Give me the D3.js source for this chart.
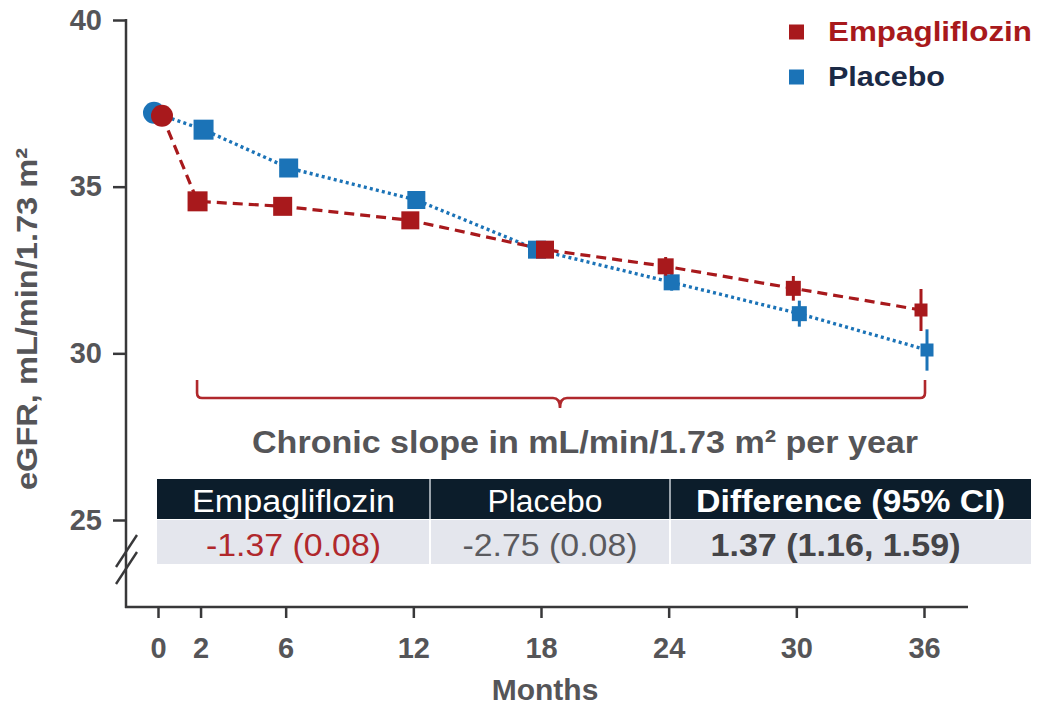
<!DOCTYPE html>
<html><head><meta charset="utf-8">
<script src="https://cdn.jsdelivr.net/npm/d3@7"></script>
<style>
body{margin:0;background:#fff}
svg{display:block}
text{font-family:"Liberation Sans",Arial,Helvetica,sans-serif}
</style>
</head><body>
<svg id="c" width="1047" height="705"></svg>
<script>
// ---- data ----
const months = [0, 2, 6, 12, 18, 24, 30, 36];
const monthTickLabels = ["0", "2", "6", "12", "18", "24", "30", "36"];
const empaValues = [37.13, 34.56, 34.41, 33.99, 33.11, 32.61, 31.95, 31.30];
const empaErrors = [0.05, 0.10, 0.12, 0.15, 0.20, 0.28, 0.37, 0.63];
const placeboValues = [37.22, 36.71, 35.56, 34.60, 33.11, 32.13, 31.19, 30.10];
const placeboErrors = [0.05, 0.10, 0.12, 0.15, 0.20, 0.25, 0.39, 0.62];
const yTicks = [25, 30, 35, 40];
const seriesNames = ["Empagliflozin", "Placebo"];
const tableHeaders = ["Empagliflozin", "Placebo", "Difference (95% CI)"];
const tableValues = ["-1.37 (0.08)", "-2.75 (0.08)", "1.37 (1.16, 1.59)"];
const yAxisTitle = "eGFR, mL/min/1.73 m²";
const xAxisTitle = "Months";
const bracketLabel = "Chronic slope in mL/min/1.73 m² per year";

// ---- styles / layout ----
const RED = "#a8191c", BLUE = "#1b73b7", GREY = "#555558", AXIS = "#38383a";
const svg = d3.select("#c");
const x = d3.scaleLinear().domain([0, 36]).range([158, 924]);
const y = d3.scaleLinear().domain([25, 40]).range([520, 20]);
const AX_X = 126, AX_Y = 607, AX_RIGHT = 968;

// y axis
const gy = svg.append("g").attr("transform", `translate(${AX_X},0)`)
  .call(d3.axisLeft(y).tickValues(yTicks).tickSize(13).tickPadding(11).tickFormat(d3.format("d")));
gy.select(".domain").remove();
gy.selectAll(".tick line").attr("stroke", AXIS).attr("stroke-width", 2.5);
gy.selectAll(".tick text").attr("fill", GREY).attr("font-size", 29).attr("font-weight", "bold")
  .attr("font-family", "Liberation Sans, Arial, sans-serif");
svg.append("line").attr("x1", AX_X).attr("x2", AX_X).attr("y1", y(40) - 1).attr("y2", AX_Y + 1)
  .attr("stroke", AXIS).attr("stroke-width", 2.5);
// axis break marks
[[567, 535], [584, 552]].forEach(([a, b]) => {
  svg.append("line").attr("x1", AX_X - 10).attr("y1", a).attr("x2", AX_X + 11).attr("y2", b)
    .attr("stroke", AXIS).attr("stroke-width", 2.4);
});

// x axis
svg.append("line").attr("x1", AX_X - 1).attr("x2", AX_RIGHT).attr("y1", AX_Y).attr("y2", AX_Y)
  .attr("stroke", AXIS).attr("stroke-width", 2.5);
const gx = svg.append("g").attr("transform", `translate(0,${AX_Y})`)
  .call(d3.axisBottom(x).tickValues(months).tickSize(11).tickFormat((d, i) => monthTickLabels[i]));
gx.select(".domain").remove();
gx.selectAll(".tick line").attr("stroke", AXIS).attr("stroke-width", 2.5);
gx.selectAll(".tick text").attr("fill", GREY).attr("font-size", 29).attr("font-weight", "bold")
  .attr("font-family", "Liberation Sans, Arial, sans-serif").attr("y", 51).attr("dy", 0);

// axis titles
svg.append("text").attr("transform", "translate(37,319) rotate(-90)")
  .attr("text-anchor", "middle").attr("font-size", 30).attr("font-weight", "bold").attr("fill", GREY)
  .attr("textLength", 342).attr("lengthAdjust", "spacingAndGlyphs").text(yAxisTitle);
svg.append("text").attr("x", 545).attr("y", 700).attr("text-anchor", "middle")
  .attr("font-size", 30).attr("font-weight", "bold").attr("fill", GREY).text(xAxisTitle);

// series
const series = [
  {name: seriesNames[1], values: placeboValues, errs: placeboErrors, color: BLUE, dash: "3,3.2", width: 3.4,
   dodge: m => (m === 0 || m === 18) ? -4 : 3},
  {name: seriesNames[0], values: empaValues, errs: empaErrors, color: RED, dash: "10,6", width: 3.2,
   dodge: m => (m === 0 || m === 18) ? 4 : -3}
];
const markerSize = [0, 20, 19, 18, 18, 16, 15, 13];
const line = d3.line();
series.forEach(s => {
  const pts = months.map((m, i) => [x(m) + s.dodge(m), y(s.values[i])]);
  svg.append("path").attr("d", line(pts)).attr("fill", "none").attr("stroke", s.color)
    .attr("stroke-width", s.width).attr("stroke-dasharray", s.dash);
});
series.forEach(s => {
  const g = svg.append("g");
  months.forEach((m, i) => {
    const cx = x(m) + s.dodge(m), cy = y(s.values[i]);
    g.append("line").attr("x1", cx).attr("x2", cx)
      .attr("y1", y(s.values[i] - s.errs[i])).attr("y2", y(s.values[i] + s.errs[i]))
      .attr("stroke", s.color).attr("stroke-width", 3);
    if (i === 0) {
      g.append("circle").attr("cx", cx).attr("cy", cy).attr("r", 11).attr("fill", s.color);
    } else {
      const w = markerSize[i];
      g.append("rect").attr("x", cx - w / 2).attr("y", cy - w / 2).attr("width", w).attr("height", w)
        .attr("fill", s.color);
    }
  });
});

// legend
const legend = [
  {name: seriesNames[0], color: RED, text: RED, cy: 32, len: 204},
  {name: seriesNames[1], color: BLUE, text: "#1b2a46", cy: 77, len: 117}
];
legend.forEach(l => {
  svg.append("rect").attr("x", 789).attr("y", l.cy - 7.5).attr("width", 15).attr("height", 15).attr("fill", l.color);
  svg.append("text").attr("x", 828).attr("y", l.cy + 9).attr("font-size", 27).attr("font-weight", "bold")
    .attr("fill", l.text).attr("textLength", l.len).attr("lengthAdjust", "spacingAndGlyphs").text(l.name);
});

// bracket
const bx0 = x(2) - 3.5, bx1 = x(36) + 1, bMid = 560, bTop = 380, bY = 398;
svg.append("path")
  .attr("d", `M${bx0},${bTop} V${bY - 5} Q${bx0},${bY} ${bx0 + 5},${bY} H${bMid - 7} Q${bMid},${bY} ${bMid},${bY + 10} Q${bMid},${bY} ${bMid + 7},${bY} H${bx1 - 5} Q${bx1},${bY} ${bx1},${bY - 5} V${bTop}`)
  .attr("fill", "none").attr("stroke", "#b0282c").attr("stroke-width", 2.6);
svg.append("text").attr("x", 585).attr("y", 453).attr("text-anchor", "middle")
  .attr("font-size", 32).attr("font-weight", "bold").attr("fill", GREY)
  .attr("textLength", 666).attr("lengthAdjust", "spacingAndGlyphs").text(bracketLabel);

// table
const colEdges = [157, 430, 670, 1031];
const hdrTop = 479, hdrBot = 519, rowTop = 520, rowBot = 564;
svg.append("rect").attr("x", colEdges[0]).attr("y", hdrTop).attr("width", colEdges[3] - colEdges[0])
  .attr("height", hdrBot - hdrTop).attr("fill", "#0c1d2b");
svg.append("rect").attr("x", colEdges[0]).attr("y", rowTop).attr("width", colEdges[3] - colEdges[0])
  .attr("height", rowBot - rowTop).attr("fill", "#e4e6ed");
[1, 2].forEach(k => {
  svg.append("line").attr("x1", colEdges[k]).attr("x2", colEdges[k]).attr("y1", hdrTop).attr("y2", hdrBot)
    .attr("stroke", "#9aa3ab").attr("stroke-width", 2);
  svg.append("line").attr("x1", colEdges[k]).attr("x2", colEdges[k]).attr("y1", rowTop).attr("y2", rowBot)
    .attr("stroke", "#ffffff").attr("stroke-width", 2);
});
const hdrLens = [203, 115, 309], valLens = [175, 175, 250];
const valColors = ["#b0282c", "#5a5a5e", "#444447"];
tableHeaders.forEach((t, k) => {
  const cx = (colEdges[k] + colEdges[k + 1]) / 2 + (k === 1 ? -5 : 0);
  svg.append("text").attr("x", cx).attr("y", 512).attr("text-anchor", "middle")
    .attr("font-size", 31).attr("font-weight", k === 2 ? "bold" : "normal").attr("fill", "#ffffff")
    .attr("textLength", hdrLens[k]).attr("lengthAdjust", "spacingAndGlyphs").text(t);
});
tableValues.forEach((t, k) => {
  const cx = (colEdges[k] + colEdges[k + 1]) / 2 + (k === 2 ? -15 : 0);
  svg.append("text").attr("x", cx).attr("y", 556).attr("text-anchor", "middle")
    .attr("font-size", 31).attr("font-weight", k === 2 ? "bold" : "normal").attr("fill", valColors[k])
    .attr("textLength", valLens[k]).attr("lengthAdjust", "spacingAndGlyphs").text(t);
});
</script>
</body></html>
